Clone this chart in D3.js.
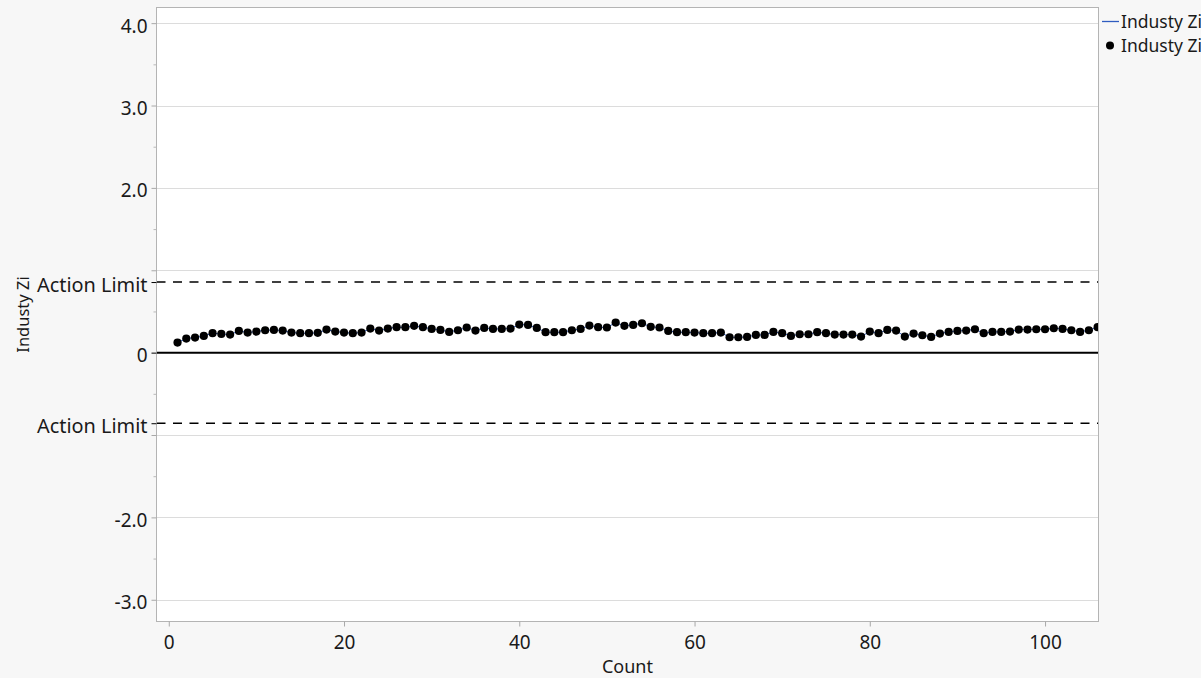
<!DOCTYPE html>
<html>
<head>
<meta charset="utf-8">
<script src="https://cdn.jsdelivr.net/npm/d3@7"></script>
<style>
  html, body { margin: 0; padding: 0; background: #f7f7f7; }
  svg { display: block; }
  text { font-family: "Noto Sans", "DejaVu Sans", sans-serif; fill: #1a1a1a; }
</style>
</head>
<body>
<svg id="chart" width="1201" height="678"></svg>
<script>
// ---------------- DATA ----------------
const counts = [
  1, 2, 3, 4, 5, 6, 7, 8, 9, 10,
  11, 12, 13, 14, 15, 16, 17, 18, 19, 20,
  21, 22, 23, 24, 25, 26, 27, 28, 29, 30,
  31, 32, 33, 34, 35, 36, 37, 38, 39, 40,
  41, 42, 43, 44, 45, 46, 47, 48, 49, 50,
  51, 52, 53, 54, 55, 56, 57, 58, 59, 60,
  61, 62, 63, 64, 65, 66, 67, 68, 69, 70,
  71, 72, 73, 74, 75, 76, 77, 78, 79, 80,
  81, 82, 83, 84, 85, 86, 87, 88, 89, 90,
  91, 92, 93, 94, 95, 96, 97, 98, 99, 100,
  101, 102, 103, 104, 105, 106
];
const industyZi = [
  0.122, 0.171, 0.183, 0.203, 0.236, 0.227, 0.219, 0.264, 0.244, 0.256,
  0.272, 0.276, 0.268, 0.244, 0.236, 0.236, 0.240, 0.280, 0.256, 0.244,
  0.236, 0.244, 0.292, 0.268, 0.292, 0.309, 0.309, 0.325, 0.309, 0.288,
  0.276, 0.252, 0.272, 0.305, 0.268, 0.300, 0.288, 0.288, 0.292, 0.341,
  0.337, 0.300, 0.248, 0.248, 0.248, 0.272, 0.288, 0.329, 0.309, 0.305,
  0.365, 0.325, 0.337, 0.357, 0.313, 0.305, 0.264, 0.248, 0.248, 0.244,
  0.236, 0.236, 0.244, 0.187, 0.187, 0.191, 0.215, 0.215, 0.252, 0.236,
  0.203, 0.223, 0.223, 0.248, 0.236, 0.219, 0.219, 0.219, 0.195, 0.256,
  0.236, 0.276, 0.268, 0.195, 0.232, 0.211, 0.191, 0.232, 0.252, 0.264,
  0.268, 0.284, 0.236, 0.252, 0.252, 0.256, 0.280, 0.280, 0.284, 0.284,
  0.296, 0.288, 0.272, 0.252, 0.272, 0.309
];
const seriesName = "Industy Zi";
const xLabel = "Count";
const yLabel = "Industy Zi";
const xTicks = [0, 20, 40, 60, 80, 100];
const yMajorTicks = [4, 3, 2, 1, -1, -2, -3];
const yMajorLabels = ["4.0", "3.0", "2.0", "", "", "-2.0", "-3.0"];
const yMinorTicks = [3.5, 2.5, 1.5, 0.5, -0.5, -1.5, -2.5];
const centerValue = 0;
const actionLimitUpper = 0.857;
const actionLimitLower = -0.857;
const limitTicks = [actionLimitUpper, centerValue, actionLimitLower];
const limitLabels = ["Action Limit", "0", "Action Limit"];

// ---------------- LAYOUT ----------------
const plot = { left: 156.5, top: 7.5, right: 1098.5, bottom: 621.5 };
const svg = d3.select("#chart");

const x = d3.scaleLinear().domain([-1.4, 106.1]).range([plot.left, plot.right]);
const y = d3.scaleLinear().domain([-3.264, 4.19]).range([plot.bottom, plot.top]);

// plot background
svg.append("rect")
  .attr("x", plot.left).attr("y", plot.top)
  .attr("width", plot.right - plot.left).attr("height", plot.bottom - plot.top)
  .attr("fill", "#ffffff");

// clip
svg.append("clipPath").attr("id", "clip")
  .append("rect")
  .attr("x", plot.left).attr("y", plot.top)
  .attr("width", plot.right - plot.left).attr("height", plot.bottom - plot.top);

// gridlines
svg.append("g").selectAll("line").data(yMajorTicks).join("line")
  .attr("x1", plot.left).attr("x2", plot.right)
  .attr("y1", d => Math.round(y(d)) + 0.5).attr("y2", d => Math.round(y(d)) + 0.5)
  .attr("stroke", "#dcdcdc").attr("stroke-width", 1);

// action limit dashed lines
svg.append("g").selectAll("line").data([actionLimitUpper, actionLimitLower]).join("line")
  .attr("x1", plot.left).attr("x2", plot.right)
  .attr("y1", d => y(d)).attr("y2", d => y(d))
  .attr("stroke", "#000").attr("stroke-width", 1.6)
  .attr("stroke-dasharray", "9,7.5");

// center line
svg.append("line")
  .attr("x1", plot.left).attr("x2", plot.right)
  .attr("y1", y(centerValue)).attr("y2", y(centerValue))
  .attr("stroke", "#000").attr("stroke-width", 2);

// series line + dots
const g = svg.append("g").attr("clip-path", "url(#clip)");
const pts = counts.map((c, i) => [c, industyZi[i]]);
g.append("path")
  .datum(pts)
  .attr("d", d3.line().x(d => x(d[0])).y(d => y(d[1])))
  .attr("fill", "none").attr("stroke", "#2f5cc0").attr("stroke-width", 1);
g.selectAll("circle").data(pts).join("circle")
  .attr("cx", d => x(d[0])).attr("cy", d => y(d[1]))
  .attr("r", 4.1).attr("fill", "#000");

// frame
svg.append("rect")
  .attr("x", plot.left).attr("y", plot.top)
  .attr("width", plot.right - plot.left).attr("height", plot.bottom - plot.top)
  .attr("fill", "none").attr("stroke", "#b4b4b4").attr("stroke-width", 1);

// y axis: major ticks (gray)
const yAxisMajor = svg.append("g").attr("transform", `translate(${plot.left},0)`)
  .call(d3.axisLeft(y).tickValues(yMajorTicks).tickSize(5).tickPadding(4)
    .tickFormat((d, i) => yMajorLabels[i]));
// y axis: minor ticks
const yAxisMinor = svg.append("g").attr("transform", `translate(${plot.left},0)`)
  .call(d3.axisLeft(y).tickValues(yMinorTicks).tickSize(3).tickFormat(""));
// y axis: limit ticks (black)
const yAxisLimits = svg.append("g").attr("transform", `translate(${plot.left},0)`)
  .call(d3.axisLeft(y).tickValues(limitTicks).tickSize(5).tickPadding(4)
    .tickFormat((d, i) => limitLabels[i]));

[yAxisMajor, yAxisMinor, yAxisLimits].forEach(a => {
  a.select(".domain").remove();
  a.selectAll("text").attr("font-size", 19).attr("dy", "0.32em").attr("y", 3)
    .attr("fill", "#1a1a1a");
  a.attr("font-family", null);
});
yAxisLimits.selectAll("text").filter((d, i) => limitLabels[i] !== "0").attr("font-size", 19.9);
yAxisMajor.selectAll("line").attr("stroke", "#a8a8a8");
yAxisMinor.selectAll("line").attr("stroke", "#b8b8b8");
yAxisLimits.selectAll("line").attr("stroke", "#000");

// x axis
const xAxis = svg.append("g").attr("transform", `translate(0,${plot.bottom})`)
  .call(d3.axisBottom(x).tickValues(xTicks).tickSize(5).tickPadding(9).tickFormat(d3.format("d")));
xAxis.select(".domain").remove();
xAxis.attr("font-family", null);
xAxis.selectAll("line").attr("stroke", "#a8a8a8");
xAxis.selectAll("text").attr("font-size", 19).attr("fill", "#1a1a1a");

// axis titles
svg.append("text")
  .attr("x", (plot.left + plot.right) / 2).attr("y", 673)
  .attr("text-anchor", "middle").attr("font-size", 18)
  .text(xLabel);
svg.append("text")
  .attr("transform", `translate(29,${(plot.top + plot.bottom) / 2}) rotate(-90)`)
  .attr("text-anchor", "middle").attr("font-size", 16.5)
  .text(yLabel);

// legend
const legend = svg.append("g");
legend.append("line")
  .attr("x1", 1102).attr("x2", 1119).attr("y1", 21.5).attr("y2", 21.5)
  .attr("stroke", "#2f5cc0").attr("stroke-width", 1.3);
legend.append("text").attr("x", 1121).attr("y", 28).attr("font-size", 17.5).text(seriesName);
legend.append("circle").attr("cx", 1110).attr("cy", 45.5).attr("r", 4).attr("fill", "#000");
legend.append("text").attr("x", 1121).attr("y", 52).attr("font-size", 17.5).text(seriesName);
</script>
</body>
</html>
